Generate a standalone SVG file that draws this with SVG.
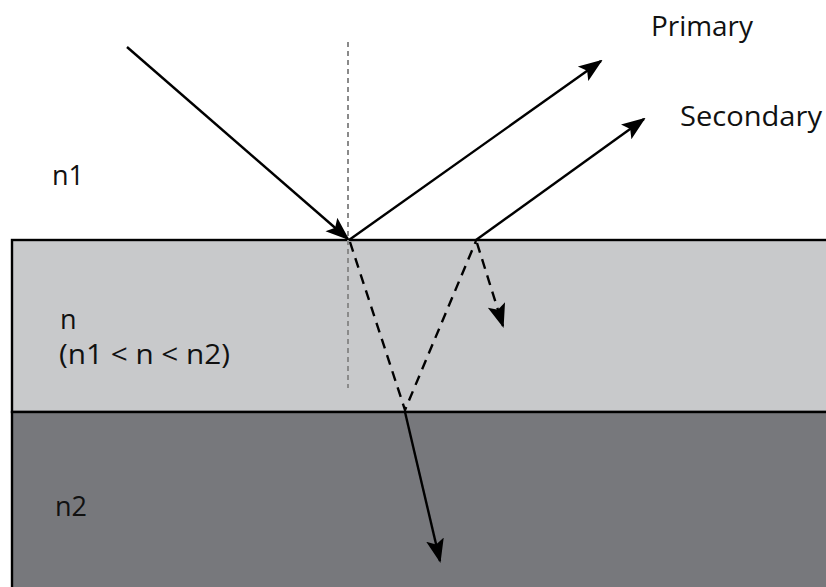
<svg xmlns="http://www.w3.org/2000/svg" width="826" height="587" viewBox="0 0 826 587">
<style>
.ray{stroke:#000;stroke-width:2.4;fill:none}
.dash{stroke:#000;stroke-width:2.4;fill:none;stroke-dasharray:10 7}
.normal{stroke:#8a8a8a;stroke-width:2;fill:none;stroke-dasharray:5 4}
.lbl{font-family:"Open Sans","Liberation Sans",sans-serif;font-size:27px;fill:#111}
</style>
<defs>
<marker id="ah" viewBox="0 0 24 20" refX="22" refY="10" markerWidth="24" markerHeight="20" markerUnits="userSpaceOnUse" orient="auto">
<path d="M0,1 L24,10 L0,19 L5,10 Z" fill="#000"/>
</marker>
</defs>
<rect width="826" height="587" fill="#fff"/>
<g id="layer-n">
<rect x="12" y="240" width="820" height="172" fill="#c8c9cb" stroke="#000" stroke-width="2.4"/>
</g>
<g id="layer-n2">
<rect x="12" y="412" width="820" height="180" fill="#77787c" stroke="#000" stroke-width="2.4"/>
</g>
<g id="labels">
<text class="lbl" x="52" y="185">n1</text>
<text class="lbl" x="60" y="329">n</text>
<text class="lbl" x="59" y="364" textLength="171" lengthAdjust="spacingAndGlyphs">(n1 &lt; n &lt; n2)</text>
<text class="lbl" x="55" y="516">n2</text>
<text class="lbl" x="651" y="36" textLength="102" lengthAdjust="spacingAndGlyphs">Primary</text>
<text class="lbl" x="680" y="126" textLength="142" lengthAdjust="spacingAndGlyphs">Secondary</text>
</g>
<g id="connectors">
<line class="normal" x1="348" y1="42" x2="348" y2="388"/>
<line class="ray" x1="127" y1="47" x2="348" y2="239" marker-end="url(#ah)"/>
<line class="ray" x1="349" y1="240" x2="601" y2="61" marker-end="url(#ah)"/>
<line class="ray" x1="476" y1="240" x2="644" y2="119" marker-end="url(#ah)"/>
<polyline class="dash" points="350,242 405,410 476,241"/>
<line class="dash" x1="477" y1="243" x2="503" y2="326" marker-end="url(#ah)"/>
<line class="ray" x1="405" y1="412" x2="440" y2="561" marker-end="url(#ah)"/>
</g>
</svg>
